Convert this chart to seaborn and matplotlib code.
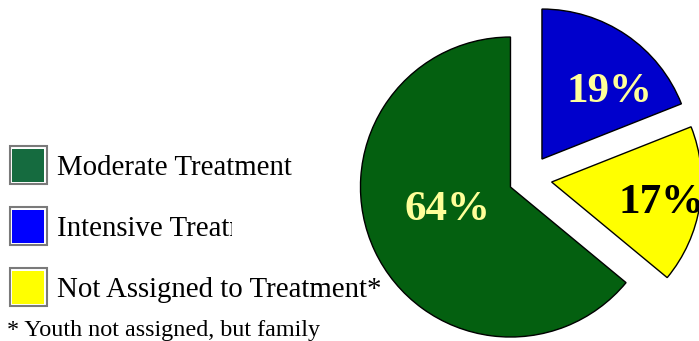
import matplotlib
matplotlib.use("Agg")
import matplotlib.pyplot as plt
from matplotlib.patches import Rectangle
from matplotlib.transforms import Bbox, TransformedBbox
import seaborn as sns

# Program groups and their share of youth (%)
categories = ["Moderate Treatment", "Intensive Treatment", "Not Assigned to Treatment*"]
shares = [64, 19, 17]
wedge_colors = ["#046010", "#0000CC", "#FFFF00"]
legend_colors = ["#156B3F", "#0000FF", "#FFFF00"]
label_colors = ["#FFFF99", "#FFFF99", "#000000"]
explode = [0.135, 0.156, 0.154]   # as a fraction of the radius
footnote = "* Youth not assigned, but family"

sns.set_theme(style="white")
plt.rcParams["font.family"] = ["Liberation Serif", "DejaVu Serif"]

W, H = 699, 341
fig = plt.figure(figsize=(W / 100, H / 100), dpi=100)
ax = fig.add_axes([0, 0, 1, 1])


def py(y):
    """Convert a top-down pixel row to the axes' bottom-up data y."""
    return H - y


# Wedges run counterclockwise from 12 o'clock: moderate, not assigned, intensive
R = 150
order = [0, 2, 1]
ax.pie(
    [shares[i] for i in order],
    explode=[explode[i] * R for i in order],
    colors=[wedge_colors[i] for i in order],
    startangle=90,
    counterclock=True,
    radius=R,
    center=(528.8, py(178.4)),
    wedgeprops=dict(edgecolor="black", linewidth=1.0),
    frame=False,
)
ax.set_xlim(0, W)
ax.set_ylim(0, H)
ax.set_aspect("auto")
ax.axis("off")

# Percentage labels on the wedges
label_pos = [(405, 220), (567, 102), (618, 213)]
for share, (lx, ly), c in zip(shares, label_pos, label_colors):
    ax.text(lx, py(ly), f"{share}%", ha="left", va="baseline",
            fontsize=31, fontweight="bold", color=c)

# Legend: bordered swatches with labels
rows = [146, 207, 268]
for name, col, top in zip(categories, legend_colors, rows):
    ax.add_patch(Rectangle((9.5, py(top + 38)), 37, 38, facecolor="white",
                           edgecolor="#7a7a7a", linewidth=1.5))
    ax.add_patch(Rectangle((12, py(top + 35.5)), 32, 33, facecolor=col,
                           edgecolor="none"))
    t = ax.text(57, py(top + 29), name, ha="left", va="baseline",
                fontsize=20.8, color="black")
    if name.startswith("Intensive"):
        t.set_clip_on(True)
        t.set_clip_box(TransformedBbox(Bbox([[0, 0], [232, H]]), ax.transData))

ax.text(7, py(336), footnote, ha="left", va="baseline", fontsize=17.4, color="black")

fig.savefig("out.png", dpi=100)
